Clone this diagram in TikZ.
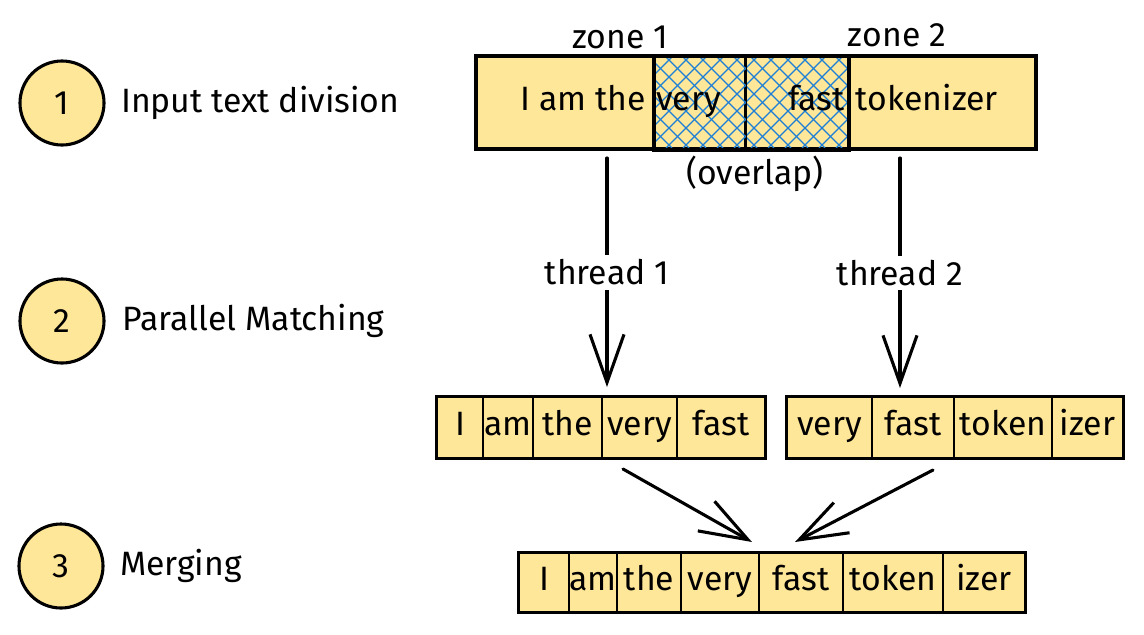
\documentclass[tikz,border=0pt]{standalone}
\usepackage{fontspec}
\setmainfont{Fira Sans}
\usetikzlibrary{arrows.meta, positioning}
\definecolor{tokyellow}{RGB}{255,231,153}
\definecolor{hatchblue}{RGB}{28,126,214}
\newcommand{\tokfont}{\fontsize{24}{28}\selectfont}
\tikzset{
  stepcircle/.style={circle, draw=black, line width=2.2pt, fill=tokyellow, minimum size=2.1cm, inner sep=0pt, font=\tokfont},
  steplabel/.style={inner sep=0pt, font=\tokfont},
  barpart/.style={rectangle, draw=black, line width=1.6pt, fill=tokyellow, minimum height=2.275cm, inner sep=0pt},
  bartext/.style={inner sep=0pt, text height=17pt, text depth=5pt, font=\tokfont},
  token/.style={rectangle, draw=black, line width=1.4pt, fill=tokyellow, minimum height=1.5cm, inner sep=0pt, text height=17pt, text depth=5pt, font=\tokfont},
  bigarrow/.style={line width=2.2pt, line cap=round, -{Straight Barb[length=1.2cm, width=0.85cm, line width=2.2pt]}},
  threadlabel/.style={fill=white, inner sep=3pt, font=\tokfont}
}

\begin{document}
\begin{tikzpicture}[x=0.025cm, y=-0.025cm]
    \useasboundingbox (0,0) rectangle (1144,634);

    % 1. Steps on the left
    \node[stepcircle] (stepA) at (62,103) {1};
    \node[stepcircle] (stepB) at (62,321) {2};
    \node[stepcircle] (stepC) at (61,566) {3};
    \node[steplabel, right=0.38cm of stepA] (lblA) {Input text division};
    \node[steplabel, right=0.42cm of stepB] (lblB) {Parallel Matching};
    \node[steplabel, right=0.38cm of stepC] (lblC) {Merging};

    % 2. Input text with its two zones
    \node[barpart, minimum width=4.45cm] (zoneA) at (566,102.5) {};
    \node[barpart, minimum width=2.25cm] (ovA) at (700,102.5) {};
    \node[barpart, minimum width=2.575cm] (ovB) at (796.5,102.5) {};
    \node[barpart, minimum width=4.675cm] (zoneB) at (941.5,102.5) {};

    % hatching of the overlap
    \begin{scope}
        \clip (ovA.north west) rectangle (ovB.south east);
        \foreach \s in {564,581,...,850} {
            \draw[hatchblue, line width=0.9pt] (\s,57) -- ++(91,91);
            \draw[hatchblue, line width=0.9pt] (\s,148) -- ++(91,-91);
        }
    \end{scope}
    \draw[line width=0.9pt] (ovA.north east) -- (ovA.south east);
    \draw[line width=2.4pt] (ovA.north west) rectangle ([yshift=-1pt]ovB.south east);
    \draw[line width=2pt] (zoneA.north west) rectangle (zoneB.south east);

    \node[bartext, anchor=east] (txtA) at ([xshift=-0.25cm]zoneA.east) {I am the};
    \node[bartext, anchor=west] (txtB) at ([xshift=0.05cm]ovA.west) {very};
    \node[bartext, anchor=east] (txtC) at ([xshift=-0.1cm]ovB.east) {fast};
    \node[bartext, anchor=west] (txtD) at ([xshift=0.22cm]zoneB.west) {tokenizer};

    \node[bartext] (zoneAlbl) at (620,40) {zone 1};
    \node[bartext] (zoneBlbl) at (897,38) {zone 2};
    \node[bartext] (ovlbl) at (755,176) {(overlap)};

    % 3. Matching results of both threads
    \foreach \a/\b/\w [count=\i] in {437/483/I, 483/533/am, 533/602/the, 602/677/very, 677/765/fast}
        \node[token, minimum width={(\b-\a)*0.025cm}] (left\i) at ({(\a+\b)/2},427.5) {\w};
    \draw[line width=2pt] (left1.north west) rectangle (left5.south east);

    \foreach \a/\b/\w [count=\i] in {787/872/very, 872/954/fast, 954/1052/token, 1052/1123/izer}
        \node[token, minimum width={(\b-\a)*0.025cm}] (right\i) at ({(\a+\b)/2},427.5) {\w};
    \draw[line width=2pt] (right1.north west) rectangle (right4.south east);

    % 4. Merged output
    \foreach \a/\b/\w [count=\i] in {519/569/I, 569/617/am, 617/681/the, 681/759/very, 759/843/fast, 843/943/token, 943/1025/izer}
        \node[token, minimum width={(\b-\a)*0.025cm}, minimum height=1.475cm] (out\i) at ({(\a+\b)/2},582.5) {\w};
    \draw[line width=2pt] (out1.north west) rectangle (out7.south east);

    % 5. Arrows
    \coordinate (thrAtop) at (607,158);
    \coordinate (thrAtip) at (607,387);
    \coordinate (thrBtop) at (900,158);
    \coordinate (thrBtip) at (900,388);
    \draw[bigarrow] (thrAtop) -- node[threadlabel] (thrA) {thread 1} (thrAtip);
    \draw[bigarrow] (thrBtop) -- node[threadlabel] (thrB) {thread 2} (thrBtip);

    \coordinate (mrgAtop) at (623,469);
    \coordinate (mrgAtip) at (752,542);
    \coordinate (mrgBtop) at (933,470);
    \coordinate (mrgBtip) at (795,542);
    \draw[bigarrow] (mrgAtop) -- (mrgAtip);
    \draw[bigarrow] (mrgBtop) -- (mrgBtip);

\end{tikzpicture}
\end{document}
